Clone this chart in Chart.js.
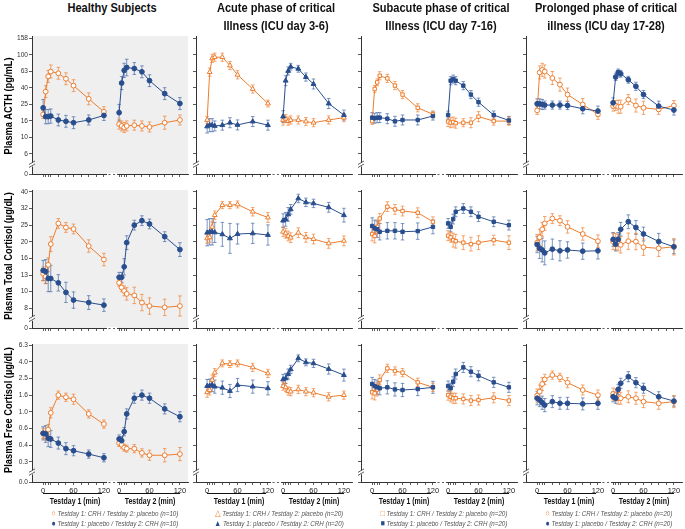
<!DOCTYPE html>
<html>
<head>
<meta charset="utf-8">
<script src="https://cdn.jsdelivr.net/npm/chart.js@4.4.1/dist/chart.umd.min.js"></script>
<style>
  html, body { margin: 0; padding: 0; background: #fff; overflow: hidden; }
  #wrap { position: relative; width: 685px; height: 529px; }
  #wrap canvas { position: absolute; }
  /* no narrow font installed: squeeze Liberation Sans horizontally instead */
  .ttl, .day, .leg { position: absolute; text-align: center; white-space: nowrap;
                     transform: scaleX(0.82); transform-origin: 50% 50%; }
  .ttl { width: 220px; color: #111; font: bold 13.5px/17.5px "Liberation Sans", Arial, sans-serif; }
  .day { width: 100px; color: #111; font: bold 8.5px/12px "Liberation Sans", Arial, sans-serif; }
  .leg { width: 200px; color: #555; font: italic 7.6px/10px "Liberation Sans", Arial, sans-serif; }
  .leg b { font-style: normal; font-weight: normal; font-size: 8.5px; }
  .ytl { position: absolute; white-space: nowrap; color: #000; font: bold 11.3px/13px "Liberation Sans", Arial, sans-serif;
         transform: translate(-50%, -50%) rotate(-90deg) scaleX(0.82); }
  .uline { position: absolute; height: 0; border-top: 1px solid #111; }
</style>
</head>
<body>
<div id="wrap"></div>
<script>
// sampling times (min) on each testday
const times = [0, 5, 10, 15, 30, 45, 60, 90, 120];
const xTicks = [0, 5, 10, 15, 30, 45, 60, 75, 90, 105, 120];
const xTickLabels = { 0: '0', 60: '60', 120: '120' };

// y ticks (log spaced) and their printed labels
const acthTicks = [6.31, 10, 15.85, 25.12, 39.81, 63.1, 100, 158.5];
const acthTickLabels = ['6', '10', '16', '25', '40', '63', '100', '158'];
const totalTicks = [7.94, 10, 12.59, 15.85, 19.95, 25.12, 31.62, 39.81];
const totalTickLabels = ['8', '10', '13', '16', '20', '25', '32', '40'];
const freeTicks = [0.251, 0.398, 0.631, 1, 1.585, 2.512, 3.981, 6.31];
const freeTickLabels = ['0.3', '0.4', '0.6', '1.0', '1.6', '2.5', '4.0', '6.3'];

// values: first 9 = testday 1, last 9 = testday 2
// "Crh" = CRH on day 1 / placebo on day 2, "Pla" = placebo on day 1 / CRH on day 2
const healthyActhCrh = [19, 36, 55, 63, 60, 51.5, 42.5, 29.4, 20.5, 14.5, 13.8, 13.2, 13.8, 14.1, 13.8, 13.4, 15.1, 16.3];
const healthyActhPla = [22.9, 17.9, 17.9, 18.2, 16.3, 15.7, 15.1, 16.3, 18.5, 20, 45.7, 65, 70.5, 68.5, 62.5, 48.8, 34, 25.8];
const healthyTotalCrh = [12.8, 12.3, 14.5, 19.3, 25.7, 24.3, 23.8, 18.8, 15.6, 11.3, 10.6, 10.1, 9.7, 9.5, 8.6, 8.2, 8.05, 8.2];
const healthyTotalPla = [13.4, 13.2, 12.0, 12.0, 11.3, 9.9, 8.9, 8.6, 8.3, 12.2, 12.2, 14.1, 19.7, 25.1, 26.7, 25.5, 21.4, 17.9];
const healthyFreeCrh = [0.55, 0.51, 0.61, 0.97, 1.58, 1.49, 1.41, 0.94, 0.71, 0.42, 0.40, 0.37, 0.36, 0.36, 0.32, 0.30, 0.30, 0.31];
const healthyFreePla = [0.55, 0.54, 0.48, 0.47, 0.42, 0.36, 0.34, 0.31, 0.28, 0.47, 0.45, 0.575, 0.94, 1.45, 1.58, 1.45, 1.08, 0.87];

const acuteActhCrh = [16.3, 62, 91, 94, 94, 74.5, 57.5, 38.7, 25.8, 16.3, 16.9, 15.8, 16.3, 16.3, 15.6, 15.1, 16.3, 17.4];
const acuteActhPla = [13.6, 14.1, 14.1, 13.8, 14.1, 15.1, 14.2, 15.6, 14.1, 17.9, 48.8, 64, 72, 68, 54, 44.5, 25.8, 18.7];
const acuteTotalCrh = [20.9, 21.2, 24.5, 28.8, 33.1, 33.1, 33.4, 30.2, 27.9, 22.9, 22.4, 21.6, 21.1, 22.6, 21.2, 20.7, 19.5, 20.2];
const acuteTotalPla = [22.6, 22.9, 22.9, 22.7, 22.1, 20.9, 22.2, 22.4, 21.9, 26.7, 27.2, 29.1, 31.2, 36.3, 34.4, 33.9, 32.1, 28.8];
const acuteFreeCrh = [1.71, 1.82, 2.40, 2.94, 3.80, 3.73, 3.80, 3.40, 2.88, 2.03, 1.96, 1.77, 1.74, 1.85, 1.74, 1.69, 1.51, 1.58];
const acuteFreePla = [2.03, 2.05, 2.09, 2.0, 1.94, 1.77, 2.09, 2.0, 1.91, 2.44, 2.51, 2.83, 3.22, 4.37, 3.91, 3.80, 3.25, 2.75];

const subacuteActhCrh = [15.8, 38.7, 46.6, 56, 52, 42.5, 33.1, 22.9, 19.1, 15.6, 15.1, 15.4, 14.9, 15.1, 15.1, 17.9, 15.8, 15.8];
const subacuteActhPla = [17.4, 17.1, 17.4, 17.4, 16.9, 15.7, 16.3, 16.3, 18.2, 18.7, 48.8, 51, 48.8, 42.5, 33.1, 26.8, 18.7, 16.1];
const subacuteTotalCrh = [22.2, 21.6, 24.5, 27.5, 32.4, 31.2, 30.5, 29.8, 26.3, 21.7, 21.2, 20.4, 20.1, 19.7, 19.3, 19.7, 20.4, 19.7];
const subacuteTotalPla = [24.8, 24, 23.7, 22.9, 23.2, 23.2, 22.9, 23.1, 24.5, 25.7, 24.5, 27.3, 30.2, 31.6, 30.2, 28.2, 26.3, 25.1];
const subacuteFreeCrh = [1.71, 1.66, 1.85, 2.40, 3.31, 3.08, 2.94, 2.25, 1.96, 1.58, 1.51, 1.45, 1.45, 1.42, 1.36, 1.38, 1.47, 1.36];
const subacuteFreePla = [2.15, 2.03, 1.96, 1.91, 1.96, 1.85, 1.82, 1.87, 1.96, 2.03, 1.91, 2.29, 2.83, 3.40, 3.02, 2.70, 2.25, 1.96];

const prolongedActhCrh = [21.3, 61.4, 66, 63, 52.5, 43.7, 33.1, 25.1, 19.1, 24, 24.4, 23.6, 23.6, 28.8, 24.4, 22.9, 21.9, 24.4];
const prolongedActhPla = [25.6, 25.6, 25.1, 24.7, 24.7, 24.7, 24.4, 22.3, 20.9, 26.3, 54, 61.4, 59.2, 50.1, 41.7, 33.1, 24, 21.5];
const prolongedTotalCrh = [19.7, 21.2, 23.7, 25.7, 27.5, 26.7, 24.5, 22.2, 20.1, 20, 20, 19.7, 19.1, 20.1, 20, 18.5, 18.2, 18.6];
const prolongedTotalPla = [19.2, 18.2, 17.8, 17.1, 18.0, 17.6, 17.8, 17.5, 17.6, 20.6, 19.3, 20.6, 23.7, 26.3, 24.3, 22.2, 20, 18.6];
const prolongedFreeCrh = [1.56, 1.74, 2.15, 2.44, 2.75, 2.58, 2.23, 1.82, 1.58, 1.63, 1.58, 1.45, 1.45, 1.51, 1.45, 1.32, 1.26, 1.32];
const prolongedFreePla = [1.45, 1.38, 1.28, 1.20, 1.32, 1.26, 1.26, 1.24, 1.26, 1.51, 1.45, 1.85, 2.19, 2.63, 2.23, 1.91, 1.51, 1.34];

// error bars as multiplicative factors (bars are symmetric on the log axis)
const healthyActhCrhErr = [1.12, 1.18, 1.18, 1.2, 1.18, 1.18, 1.18, 1.18, 1.15, 1.15, 1.15, 1.15, 1.15, 1.15, 1.15, 1.15, 1.2, 1.15];
const healthyActhPlaErr = [1.26, 1.22, 1.22, 1.22, 1.18, 1.18, 1.18, 1.15, 1.15, 1.26, 1.2, 1.22, 1.26, 1.18, 1.18, 1.18, 1.18, 1.18];
const healthyTotalCrhErr = [1.1, 1.1, 1.1, 1.11, 1.07, 1.07, 1.07, 1.09, 1.09, 1.05, 1.06, 1.07, 1.09, 1.12, 1.12, 1.12, 1.12, 1.15];
const healthyTotalPlaErr = [1.15, 1.18, 1.2, 1.2, 1.12, 1.15, 1.12, 1.1, 1.09, 1.07, 1.07, 1.12, 1.1, 1.07, 1.07, 1.07, 1.07, 1.1];
const healthyFreeCrhErr = [1.15, 1.12, 1.15, 1.15, 1.12, 1.12, 1.15, 1.12, 1.12, 1.1, 1.1, 1.1, 1.1, 1.12, 1.12, 1.15, 1.2, 1.2];
const healthyFreePlaErr = [1.2, 1.26, 1.26, 1.26, 1.18, 1.18, 1.15, 1.12, 1.12, 1.12, 1.12, 1.12, 1.15, 1.15, 1.15, 1.15, 1.15, 1.15];

const acuteActhCrhErr = [1.1, 1.12, 1.12, 1.12, 1.12, 1.12, 1.12, 1.12, 1.1, 1.15, 1.12, 1.12, 1.12, 1.12, 1.12, 1.12, 1.12, 1.12];
const acuteActhPlaErr = [1.2, 1.2, 1.2, 1.15, 1.15, 1.15, 1.15, 1.15, 1.15, 1.18, 1.15, 1.12, 1.1, 1.1, 1.12, 1.15, 1.15, 1.15];
const acuteTotalCrhErr = [1.07, 1.07, 1.07, 1.06, 1.05, 1.05, 1.05, 1.06, 1.07, 1.07, 1.07, 1.07, 1.07, 1.07, 1.07, 1.07, 1.07, 1.07];
const acuteTotalPlaErr = [1.2, 1.2, 1.2, 1.15, 1.18, 1.23, 1.15, 1.15, 1.15, 1.1, 1.1, 1.1, 1.07, 1.06, 1.06, 1.06, 1.07, 1.1];
const acuteFreeCrhErr = [1.15, 1.15, 1.15, 1.12, 1.1, 1.1, 1.1, 1.12, 1.12, 1.12, 1.12, 1.12, 1.12, 1.12, 1.12, 1.12, 1.12, 1.12];
const acuteFreePlaErr = [1.2, 1.2, 1.2, 1.2, 1.2, 1.2, 1.2, 1.2, 1.2, 1.15, 1.15, 1.15, 1.12, 1.1, 1.1, 1.12, 1.15, 1.18];

const subacuteActhCrhErr = [1.1, 1.1, 1.1, 1.12, 1.12, 1.12, 1.12, 1.12, 1.1, 1.15, 1.15, 1.15, 1.15, 1.12, 1.15, 1.15, 1.12, 1.12];
const subacuteActhPlaErr = [1.15, 1.15, 1.15, 1.15, 1.15, 1.15, 1.15, 1.15, 1.12, 1.12, 1.12, 1.12, 1.12, 1.12, 1.12, 1.12, 1.12, 1.12];
const subacuteTotalCrhErr = [1.1, 1.1, 1.1, 1.07, 1.07, 1.07, 1.07, 1.07, 1.07, 1.07, 1.07, 1.1, 1.1, 1.1, 1.1, 1.1, 1.07, 1.1];
const subacuteTotalPlaErr = [1.12, 1.12, 1.12, 1.12, 1.12, 1.12, 1.12, 1.12, 1.1, 1.07, 1.07, 1.07, 1.07, 1.07, 1.07, 1.07, 1.07, 1.07];
const subacuteFreeCrhErr = [1.2, 1.2, 1.2, 1.15, 1.12, 1.12, 1.12, 1.12, 1.12, 1.15, 1.15, 1.15, 1.15, 1.15, 1.15, 1.15, 1.15, 1.15];
const subacuteFreePlaErr = [1.2, 1.2, 1.2, 1.2, 1.2, 1.2, 1.2, 1.2, 1.18, 1.15, 1.15, 1.15, 1.15, 1.15, 1.15, 1.15, 1.15, 1.15];

const prolongedActhCrhErr = [1.12, 1.2, 1.2, 1.2, 1.2, 1.2, 1.2, 1.18, 1.15, 1.15, 1.15, 1.2, 1.2, 1.15, 1.2, 1.2, 1.15, 1.15];
const prolongedActhPlaErr = [1.15, 1.15, 1.15, 1.12, 1.12, 1.12, 1.12, 1.15, 1.15, 1.15, 1.1, 1.1, 1.1, 1.1, 1.12, 1.12, 1.15, 1.15];
const prolongedTotalCrhErr = [1.12, 1.12, 1.1, 1.1, 1.07, 1.07, 1.09, 1.09, 1.09, 1.12, 1.12, 1.12, 1.12, 1.12, 1.12, 1.12, 1.12, 1.12];
const prolongedTotalPlaErr = [1.12, 1.15, 1.18, 1.18, 1.15, 1.15, 1.12, 1.12, 1.12, 1.1, 1.1, 1.1, 1.1, 1.1, 1.1, 1.1, 1.12, 1.1];
const prolongedFreeCrhErr = [1.2, 1.2, 1.2, 1.15, 1.12, 1.12, 1.15, 1.15, 1.15, 1.18, 1.18, 1.18, 1.18, 1.18, 1.18, 1.18, 1.18, 1.18];
const prolongedFreePlaErr = [1.2, 1.2, 1.2, 1.2, 1.18, 1.18, 1.18, 1.18, 1.18, 1.15, 1.15, 1.15, 1.15, 1.15, 1.15, 1.15, 1.15, 1.15];

const ORANGE = '#EE7D2E';
const BLUE = '#294E8E';
const ORANGE_ERR = 'rgba(238,125,46,0.75)';
const BLUE_ERR = 'rgba(74,110,170,0.8)';
const AXIS = '#333';
Chart.defaults.font.family = '"Liberation Sans", Arial, sans-serif';

const DAY2 = 150;      // testday 2 is drawn shifted right on the shared x axis
const PLOT_W = 158;

const cols = [
  { title: ['Healthy Subjects'], n: 10, shape: 'circle', sym: ['\u25CB', '\u25CF'], bg: '#efefef', axisX: 32,
    data: { acth: [healthyActhCrh, healthyActhPla], total: [healthyTotalCrh, healthyTotalPla], free: [healthyFreeCrh, healthyFreePla] },
    err: { acth: [healthyActhCrhErr, healthyActhPlaErr], total: [healthyTotalCrhErr, healthyTotalPlaErr], free: [healthyFreeCrhErr, healthyFreePlaErr] } },
  { title: ['Acute phase of critical', 'Illness (ICU day 3-6)'], n: 20, shape: 'triangle', sym: ['\u25B3', '\u25B2'], bg: null, axisX: 196,
    data: { acth: [acuteActhCrh, acuteActhPla], total: [acuteTotalCrh, acuteTotalPla], free: [acuteFreeCrh, acuteFreePla] },
    err: { acth: [acuteActhCrhErr, acuteActhPlaErr], total: [acuteTotalCrhErr, acuteTotalPlaErr], free: [acuteFreeCrhErr, acuteFreePlaErr] } },
  { title: ['Subacute phase of critical', 'Illness (ICU day 7-16)'], n: 20, shape: 'rect', sym: ['\u25A1', '\u25A0'], bg: null, axisX: 361,
    data: { acth: [subacuteActhCrh, subacuteActhPla], total: [subacuteTotalCrh, subacuteTotalPla], free: [subacuteFreeCrh, subacuteFreePla] },
    err: { acth: [subacuteActhCrhErr, subacuteActhPlaErr], total: [subacuteTotalCrhErr, subacuteTotalPlaErr], free: [subacuteFreeCrhErr, subacuteFreePlaErr] } },
  { title: ['Prolonged phase of critical', 'illness (ICU day 17-28)'], n: 20, shape: 'circle', sym: ['\u25CB', '\u25CF'], bg: null, axisX: 526,
    data: { acth: [prolongedActhCrh, prolongedActhPla], total: [prolongedTotalCrh, prolongedTotalPla], free: [prolongedFreeCrh, prolongedFreePla] },
    err: { acth: [prolongedActhCrhErr, prolongedActhPlaErr], total: [prolongedTotalCrhErr, prolongedTotalPlaErr], free: [prolongedFreeCrhErr, prolongedFreePlaErr] } }
];

const rows = [
  { key: 'acth', label: 'Plasma ACTH (pg/mL)', ticks: acthTicks, labels: acthTickLabels, zero: '0', min: 3.61, max: 169.8, top: 36, bottom: 174, titleY: 106 },
  { key: 'total', label: 'Plasma Total Cortisol (\u00B5g/dL)', ticks: totalTicks, labels: totalTickLabels, zero: '0', min: 6.05, max: 40.8, top: 190, bottom: 328, titleY: 256 },
  { key: 'free', label: 'Plasma Free Cortisol (\u00B5g/dL)', ticks: freeTicks, labels: freeTickLabels, zero: '0.0', min: 0.1433, max: 6.49, top: 344, bottom: 482, titleY: 410 }
];

// gray panel, axis breaks and error bars
const panelPlugin = {
  id: 'panel',
  beforeDraw(chart, args, opts) {
    if (!opts.bg) return;
    const a = chart.chartArea, ctx = chart.ctx;
    ctx.save();
    ctx.fillStyle = opts.bg;
    ctx.fillRect(a.left, a.top, a.right - a.left, a.bottom - a.top);
    ctx.restore();
  },
  beforeDatasetsDraw(chart, args, opts) {
    const ctx = chart.ctx, a = chart.chartArea;
    const xs = chart.scales.x, ys = chart.scales.y;
    ctx.save();
    // break on the y axis between the zero tick and the first log tick
    const yb = (ys.getPixelForValue(opts.firstTick) + a.bottom) / 2 + 1;
    const ax = Math.round(a.left) + 0.5;
    ctx.fillStyle = '#fff';
    ctx.fillRect(ax - 1.5, yb - 2.5, 3, 4);
    ctx.strokeStyle = AXIS;
    ctx.lineWidth = 0.8;
    ctx.beginPath();
    ctx.moveTo(ax - 3.5, yb - 0.5); ctx.lineTo(ax + 2.5, yb - 4);
    ctx.moveTo(ax - 3.5, yb + 2.5); ctx.lineTo(ax + 2.5, yb - 1);
    ctx.stroke();
    // gap on the x axis between the two testdays
    const g1 = xs.getPixelForValue(126), g2 = xs.getPixelForValue(146);
    ctx.fillStyle = '#fff';
    ctx.fillRect(g1, a.bottom - 1, g2 - g1, 3);
    ctx.beginPath();
    ctx.moveTo(xs.getPixelForValue(129), a.bottom + 0.5); ctx.lineTo(xs.getPixelForValue(133), a.bottom + 0.5);
    ctx.moveTo(xs.getPixelForValue(138), a.bottom + 0.5); ctx.lineTo(xs.getPixelForValue(142), a.bottom + 0.5);
    ctx.stroke();
    // error bars
    chart.data.datasets.forEach((ds, i) => {
      const meta = chart.getDatasetMeta(i);
      ctx.strokeStyle = ds.errColor;
      ctx.lineWidth = 0.9;
      meta.data.forEach((pt, j) => {
        const v = ds.data[j].y, f = ds.errs[j];
        const y1 = ys.getPixelForValue(v * f), y2 = ys.getPixelForValue(v / f);
        ctx.beginPath();
        ctx.moveTo(pt.x, y1); ctx.lineTo(pt.x, y2);
        ctx.moveTo(pt.x - 1.8, y1); ctx.lineTo(pt.x + 1.8, y1);
        ctx.moveTo(pt.x - 1.8, y2); ctx.lineTo(pt.x + 1.8, y2);
        ctx.stroke();
      });
    });
    ctx.restore();
  }
};

const wrap = document.getElementById('wrap');

function series(vals, errs, day, crh, shape) {
  return {
    data: times.map((t, i) => ({ x: t + day * DAY2, y: vals[day * 9 + i] })),
    errs: errs.slice(day * 9, day * 9 + 9),
    errColor: crh ? ORANGE_ERR : BLUE_ERR,
    borderColor: crh ? ORANGE : BLUE,
    backgroundColor: crh ? '#fff' : BLUE,
    pointBorderColor: crh ? ORANGE : BLUE,
    pointBackgroundColor: crh ? '#fff' : BLUE,
    pointStyle: shape,
    pointRadius: shape === 'triangle' ? 2.8 : 2.4,
    pointBorderWidth: 1,
    borderWidth: 1,
    tension: 0,
    clip: false
  };
}

function xLabel(v) {
  const t = v >= DAY2 ? v - DAY2 : v;
  return xTickLabels[t] || '';
}

function makePanel(ri, ci) {
  const row = rows[ri], col = cols[ci];
  const yW = ci === 0 ? 32 : 8;
  const xH = ri === 2 ? 14 : 5;
  const padTop = 6, padRight = 3;
  const w = yW + PLOT_W + padRight;
  const h = padTop + (row.bottom - row.top) + xH;
  const cv = document.createElement('canvas');
  cv.width = w; cv.height = h;
  cv.style.width = w + 'px'; cv.style.height = h + 'px';
  cv.style.left = (col.axisX - yW) + 'px';
  cv.style.top = (row.top - padTop) + 'px';
  wrap.appendChild(cv);

  const [crhVals, plaVals] = col.data[row.key];
  const [crhErr, plaErr] = col.err[row.key];
  const datasets = [
    series(plaVals, plaErr, 0, false, col.shape),
    series(plaVals, plaErr, 1, false, col.shape),
    series(crhVals, crhErr, 0, true, col.shape),
    series(crhVals, crhErr, 1, true, col.shape)
  ];
  const yTickVals = [row.min].concat(row.ticks);
  const yTickText = [row.zero].concat(row.labels);
  const xTickVals = xTicks.concat(xTicks.map(t => t + DAY2));

  new Chart(cv, {
    type: 'line',
    data: { datasets },
    options: {
      responsive: false,
      animation: false,
      devicePixelRatio: 1,
      layout: { padding: { top: padTop, right: padRight, left: 0, bottom: 0 } },
      plugins: {
        legend: { display: false },
        tooltip: { enabled: false },
        panel: { bg: col.bg, firstTick: row.ticks[0] }
      },
      scales: {
        x: {
          type: 'linear', min: -22, max: 286,
          afterBuildTicks: s => { s.ticks = xTickVals.map(v => ({ value: v })); },
          afterFit: s => { s.height = xH; },
          ticks: {
            autoSkip: false, maxRotation: 0, minRotation: 0, padding: 1,
            color: '#222', font: { size: 7.5 },
            callback: v => ri === 2 ? xLabel(v) : ''
          },
          grid: { drawOnChartArea: false, drawTicks: true, tickLength: 3, color: AXIS, lineWidth: 0.8 },
          border: { display: true, color: AXIS, width: 1 }
        },
        y: {
          type: 'logarithmic', min: row.min, max: row.max,
          afterBuildTicks: s => { s.ticks = yTickVals.map(v => ({ value: v })); },
          afterFit: s => { s.width = yW; },
          ticks: {
            autoSkip: false, padding: 1, color: '#333', font: { size: 6.6 },
            callback: (v, i) => ci === 0 ? yTickText[i] : ''
          },
          grid: { drawOnChartArea: false, drawTicks: true, tickLength: 3, color: AXIS, lineWidth: 0.8 },
          border: { display: true, color: AXIS, width: 1 }
        }
      }
    },
    plugins: [panelPlugin]
  });
}

for (let ri = 0; ri < rows.length; ri++) {
  for (let ci = 0; ci < cols.length; ci++) makePanel(ri, ci);
}

// y axis titles
rows.forEach(row => {
  const d = document.createElement('div');
  d.className = 'ytl';
  d.style.left = '8px';
  d.style.top = row.titleY + 'px';
  d.textContent = row.label;
  wrap.appendChild(d);
});

// column titles, testday captions and legends
cols.forEach(col => {
  const t = document.createElement('div');
  t.className = 'ttl';
  t.style.left = (col.axisX + 80 - 110) + 'px';
  t.style.top = '-1px';
  t.innerHTML = col.title.join('<br>');
  wrap.appendChild(t);

  [[10.5, 59.5], [85.5, 62.5]].forEach(([dx, len]) => {
    const u = document.createElement('div');
    u.className = 'uline';
    u.style.left = (col.axisX + dx) + 'px';
    u.style.width = len + 'px';
    u.style.top = '493px';
    wrap.appendChild(u);
  });
  [['Testday 1 (min)', 43], ['Testday 2 (min)', 118]].forEach(([txt, dx]) => {
    const d = document.createElement('div');
    d.className = 'day';
    d.style.left = (col.axisX + dx - 50) + 'px';
    d.style.top = '495px';
    d.textContent = txt;
    wrap.appendChild(d);
  });

  const lines = [
    [col.sym[0], ORANGE, 'Testday 1: CRH / Testday 2: placebo (n=' + col.n + ')'],
    [col.sym[1], BLUE, 'Testday 1: placebo / Testday 2: CRH (n=' + col.n + ')']
  ];
  lines.forEach(([sym, color, txt], k) => {
    const d = document.createElement('div');
    d.className = 'leg';
    d.style.left = (col.axisX + 83 - 100) + 'px';
    d.style.top = (508 + k * 9.7) + 'px';
    d.innerHTML = '<b style="color:' + color + '">' + sym + '</b> ' + txt;
    wrap.appendChild(d);
  });
});
</script>
</body>
</html>
